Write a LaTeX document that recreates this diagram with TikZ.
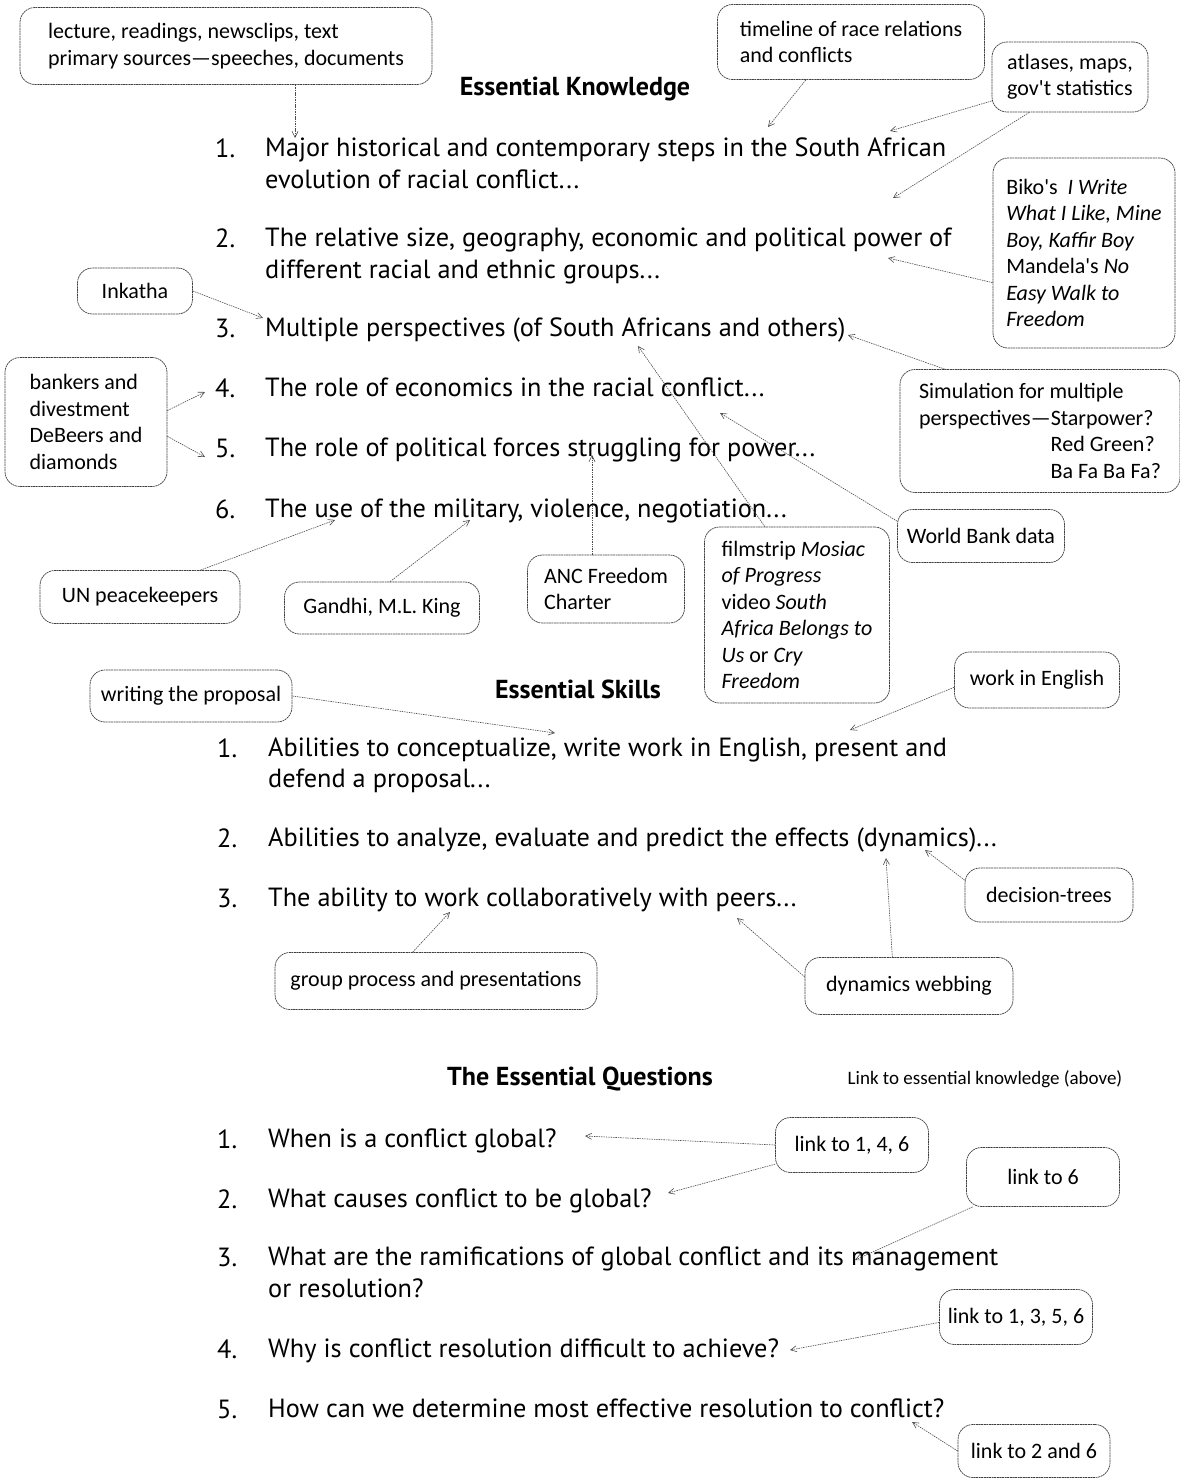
\documentclass[tikz,border=0pt]{standalone}
\usepackage{fontspec}
\setmainfont{PT Sans}
\newfontfamily\handfont{Carlito}
\usetikzlibrary{arrows.meta}
\begin{document}
\begin{tikzpicture}[x=1pt, y=-1pt,
  every node/.style={inner sep=0pt},
  item/.style={anchor=base west, font=\fontsize{26.3}{30}\selectfont},
  head/.style={font=\fontsize{26}{30}\selectfont\bfseries},
  note/.style={draw=black!75, line width=0.7pt, dash pattern=on 2pt off 0.6pt, rounded corners=15pt, align=left, font=\handfont\fontsize{22}{26.5}\selectfont},
  link/.style={draw=black!70, line width=0.6pt, dash pattern=on 1.5pt off 0.9pt, -{Straight Barb[length=6pt,width=6pt]}}]
\useasboundingbox (0,0) rectangle (1180,1480);

\node[head] (khead) at (575,89) {Essential Knowledge};
\node[item] (k1n) at (215,157) {1.};
  \node[item] (k1) at (265,156) {Major historical and contemporary steps in the South African};
  \node[item] (k1b) at (265,188) {evolution of racial conflict...};
\node[item] (k2n) at (215,247) {2.};
  \node[item] (k2) at (265,246) {The relative size, geography, economic and political power of};
  \node[item] (k2b) at (265,278) {different racial and ethnic groups...};
\node[item] (k3n) at (215,337) {3.};
  \node[item] (k3) at (265,336) {Multiple perspectives (of South Africans and others)};
\node[item] (k4n) at (215,397) {4.};
  \node[item] (k4) at (265,396) {The role of economics in the racial conflict...};
\node[item] (k5n) at (215,457) {5.};
  \node[item] (k5) at (265,456) {The role of political forces struggling for power...};
\node[item] (k6n) at (215,518) {6.};
  \node[item] (k6) at (265,517) {The use of the military, violence, negotiation...};

\node[head] (shead) at (578,689) {Essential Skills};
\node[item] (s1n) at (217,757) {1.};
  \node[item] (s1) at (268,756) {Abilities to conceptualize, write work in English, present and};
  \node[item] (s1b) at (268,787) {defend a proposal...};
\node[item] (s2n) at (217,847) {2.};
  \node[item] (s2) at (268,846) {Abilities to analyze, evaluate and predict the effects (dynamics)...};
\node[item] (s3n) at (217,907) {3.};
  \node[item] (s3) at (268,906) {The ability to work collaboratively with peers...};

\node[head] (qhead) at (580,1079) {The Essential Questions};
\node[font=\handfont\fontsize{19}{24}\selectfont] (qlink) at (985,1079) {Link to essential knowledge (above)};
\node[item] (q1n) at (217,1148) {1.};
  \node[item] (q1) at (268,1147) {When is a conflict global?};
\node[item] (q2n) at (217,1208) {2.};
  \node[item] (q2) at (268,1207) {What causes conflict to be global?};
\node[item] (q3n) at (217,1266) {3.};
  \node[item] (q3) at (268,1265) {What are the ramifications of global conflict and its management};
  \node[item] (q3b) at (268,1297) {or resolution?};
\node[item] (q4n) at (217,1358) {4.};
  \node[item] (q4) at (268,1357) {Why is conflict resolution difficult to achieve?};
\node[item] (q5n) at (217,1418) {5.};
  \node[item] (q5) at (268,1417) {How can we determine most effective resolution to conflict?};

\node[note, minimum width=412, minimum height=77] (lecture) at (226,46) {lecture, readings, newsclips, text\\primary sources\textemdash speeches, documents};
\node[note, minimum width=267, minimum height=75] (timeline) at (851,42) {timeline of race relations\\and conflicts};
\node[note, minimum width=156, minimum height=70] (atlases) at (1070,77) {atlases, maps,\\gov't statistics};
\node[note, minimum width=182, minimum height=190] (biko) at (1084,253) {Biko's\ \ \textit{I Write}\\\textit{What I Like, Mine}\\\textit{Boy, Kaffir Boy}\\Mandela's \textit{No}\\\textit{Easy Walk to}\\\textit{Freedom}};
\node[note, minimum width=115, minimum height=46] (inkatha) at (135,291) {Inkatha};
\node[note, minimum width=162, minimum height=129] (bankers) at (86,422) {bankers and\\divestment\\DeBeers and\\diamonds};
\node[note, minimum width=280, minimum height=123] (simulation) at (1040,431) {Simulation for multiple\\perspectives\textemdash Starpower?\\\hphantom{perspectives\textemdash}Red Green?\\\hphantom{perspectives\textemdash}Ba Fa Ba Fa?};
\node[note, minimum width=167, minimum height=53] (worldbank) at (981,536) {World Bank data};
\node[note, minimum width=185, minimum height=176] (filmstrip) at (797,615) {filmstrip \textit{Mosiac}\\\textit{of Progress}\\video \textit{South}\\\textit{Africa Belongs to}\\\textit{Us} or \textit{Cry}\\\textit{Freedom}};
\node[note, minimum width=157, minimum height=68] (anc) at (606,589) {ANC Freedom\\Charter};
\node[note, minimum width=200, minimum height=53] (un) at (140,597) {UN peacekeepers};
\node[note, minimum width=195, minimum height=52] (gandhi) at (382,608) {Gandhi, M.L. King};
\node[note, minimum width=202, minimum height=52] (writing) at (191,696) {writing the proposal};
\node[note, minimum width=165, minimum height=56] (english) at (1037,680) {work in English};
\node[note, minimum width=168, minimum height=54] (decision) at (1049,895) {decision-trees};
\node[note, minimum width=322, minimum height=57] (group) at (436,981) {group process and presentations};
\node[note, minimum width=208, minimum height=57] (webbing) at (909,986) {dynamics webbing};
\node[note, minimum width=153, minimum height=55] (linka) at (852,1145) {link to 1, 4, 6};
\node[note, minimum width=153, minimum height=59] (linkb) at (1043,1177) {link to 6};
\node[note, minimum width=153, minimum height=55] (linkc) at (1016,1317) {link to 1, 3, 5, 6};
\node[note, minimum width=152, minimum height=53] (linkd) at (1034,1451) {link to 2 and 6};

\coordinate (tk1a) at (295,138);
\coordinate (tk1b) at (768,127);
\coordinate (tk1c) at (890,131);
\coordinate (tk2a) at (893,198);
\coordinate (tk2b) at (888,258);
\coordinate (tk3a) at (263,318);
\coordinate (tk3b) at (848,335);
\coordinate (tk3c) at (638,346);
\coordinate (tk4a) at (205,392);
\coordinate (tk4b) at (720,413);
\coordinate (tk5a) at (205,457);
\coordinate (tk5b) at (592,455);
\coordinate (tk6a) at (335,520);
\coordinate (tk6b) at (470,520);
\coordinate (ts1a) at (555,733);
\coordinate (ts1b) at (850,730);
\coordinate (ts2a) at (925,850);
\coordinate (ts2b) at (886,858);
\coordinate (ts3a) at (450,912);
\coordinate (ts3b) at (737,918);
\coordinate (tq1) at (585,1136);
\coordinate (tq2) at (668,1193);
\coordinate (tq3) at (855,1260);
\coordinate (tq4) at (790,1350);
\coordinate (tq5) at (912,1422);

\draw[link] (lecture.south -| tk1a) -- (tk1a);
\draw[link] (timeline.220) -- (tk1b);
\draw[link] (atlases.197) -- (tk1c);
\draw[link] (atlases.221) -- (tk2a);
\draw[link] (biko.198) -- (tk2b);
\draw[link] (inkatha.east) -- (tk3a);
\draw[link] (simulation.147) -- (tk3b);
\draw[link] (filmstrip.110) -- (tk3c);
\draw[link] (bankers.8) -- (tk4a);
\draw[link] (worldbank.170) -- (tk4b);
\draw[link] (bankers.-10) -- (tk5a);
\draw[link] (anc.north -| tk5b) -- (tk5b);
\draw[link] (un.24) -- (tk6a);
\draw[link] (gandhi.73) -- (tk6b);
\draw[link] (writing.east) -- (ts1a);
\draw[link] (english.185) -- (ts1b);
\draw[link] (decision.170) -- (ts2a);
\draw[link] (webbing.120) -- (ts2b);
\draw[link] (group.129) -- (ts3a);
\draw[link] (webbing.175) -- (ts3b);
\draw[link] (linka.west) -- (tq1);
\draw[link] (linka.194) -- (tq2);
\draw[link] (linkb.203) -- (tq3);
\draw[link] (linkc.184) -- (tq4);
\draw[link] (linkd.west) -- (tq5);
\end{tikzpicture}
\end{document}
